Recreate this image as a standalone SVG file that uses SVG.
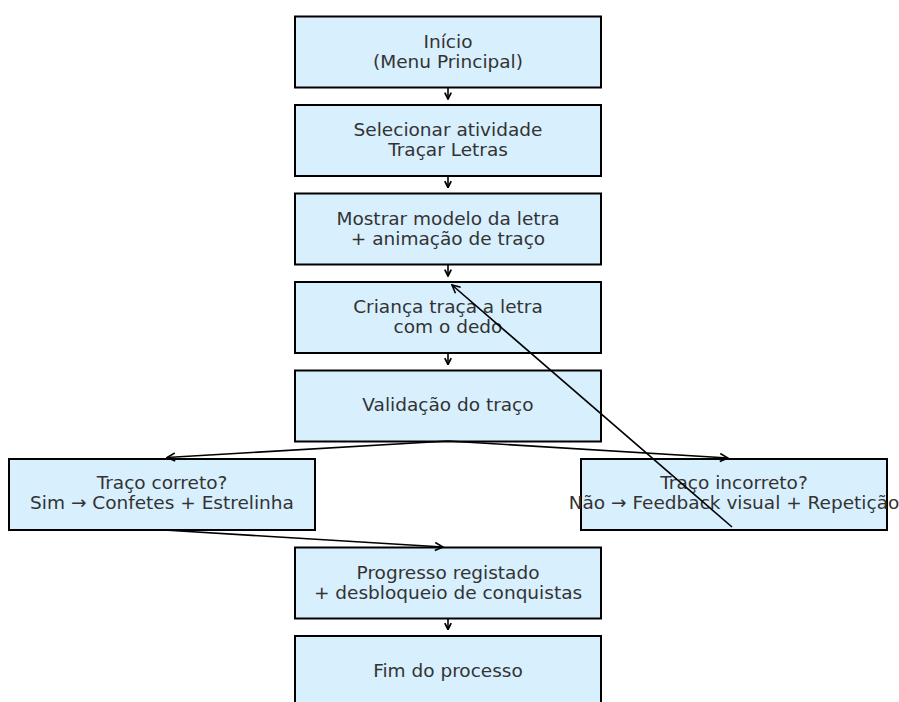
<svg xmlns="http://www.w3.org/2000/svg" width="899" height="702" viewBox="0 0 899 702">
<defs>
<style>
.box{fill:#d8effe;stroke:#000;stroke-width:2}
.t{font-family:"DejaVu Sans",sans-serif;font-size:18.5px;fill:#333;text-anchor:middle}
.c{stroke:#000;stroke-width:1.6;fill:none}
</style>
<marker id="ah" viewBox="0 0 10 10" refX="9" refY="5" markerWidth="10" markerHeight="10" markerUnits="userSpaceOnUse" orient="auto">
<path d="M1,1 L9,5 L1,9" fill="none" stroke="#000" stroke-width="1.6"/>
</marker>
<marker id="ahs" viewBox="0 0 10 10" refX="9" refY="5" markerWidth="8" markerHeight="8" markerUnits="userSpaceOnUse" orient="auto">
<path d="M1,1 L9,5 L1,9" fill="none" stroke="#000" stroke-width="2.2"/>
</marker>
</defs>
<rect width="899" height="702" fill="#fff"/>
<g id="n1"><rect class="box" x="295" y="16.5" width="306" height="71"/><text class="t" x="448" y="47.5">Início</text><text class="t" x="448" y="67.5">(Menu Principal)</text></g>
<g id="n2"><rect class="box" x="295" y="105" width="306" height="71"/><text class="t" x="448" y="136">Selecionar atividade</text><text class="t" x="448" y="156">Traçar Letras</text></g>
<g id="n3"><rect class="box" x="295" y="193.5" width="306" height="71"/><text class="t" x="448" y="224.5">Mostrar modelo da letra</text><text class="t" x="448" y="244.5">+ animação de traço</text></g>
<g id="n4"><rect class="box" x="295" y="282" width="306" height="71"/><text class="t" x="448" y="313">Criança traça a letra</text><text class="t" x="448" y="333">com o dedo</text></g>
<g id="n5"><rect class="box" x="295" y="370.5" width="306" height="71"/><text class="t" x="448" y="411">Validação do traço</text></g>
<g id="n6"><rect class="box" x="9" y="459" width="306" height="71"/><text class="t" x="162" y="489">Traço correto?</text><text class="t" x="162" y="509">Sim → Confetes + Estrelinha</text></g>
<g id="n7"><rect class="box" x="581" y="459" width="306" height="71"/><text class="t" x="734" y="489">Traço incorreto?</text><text class="t" x="734" y="509">Não → Feedback visual + Repetição</text></g>
<g id="n8"><rect class="box" x="295" y="547.5" width="306" height="71"/><text class="t" x="448" y="578.5">Progresso registado</text><text class="t" x="448" y="598.5">+ desbloqueio de conquistas</text></g>
<g id="n9"><rect class="box" x="295" y="636" width="306" height="71"/><text class="t" x="448" y="676.5">Fim do processo</text></g>
<g id="connectors">
<line class="c" x1="448" y1="88" x2="448" y2="99" marker-end="url(#ahs)"/>
<line class="c" x1="448" y1="176.5" x2="448" y2="187.5" marker-end="url(#ahs)"/>
<line class="c" x1="448" y1="265" x2="448" y2="276" marker-end="url(#ahs)"/>
<line class="c" x1="448" y1="353.5" x2="448" y2="364.5" marker-end="url(#ahs)"/>
<line class="c" x1="448" y1="441" x2="167" y2="457.5" marker-end="url(#ah)"/>
<line class="c" x1="448" y1="441" x2="728" y2="458" marker-end="url(#ah)"/>
<line class="c" x1="164" y1="530" x2="443" y2="547" marker-end="url(#ah)"/>
<line class="c" x1="732" y1="527" x2="452" y2="285" marker-end="url(#ah)"/>
<line class="c" x1="448" y1="618.5" x2="448" y2="629.5" marker-end="url(#ahs)"/>
</g>
</svg>
